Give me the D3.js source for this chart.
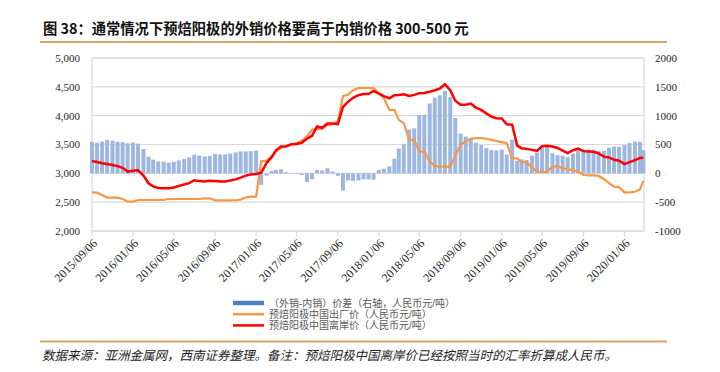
<!doctype html>
<html>
<head>
<meta charset="utf-8">
<script src="https://d3js.org/d3.v7.min.js"></script>
<style>
  body{margin:0;background:#fff;}
  text{font-family:"Noto Sans CJK SC","Noto Sans",sans-serif;}
  .num{font-family:"Liberation Serif","DejaVu Serif",serif;font-size:11px;fill:#262626;}
  .leg{font-family:"Liberation Sans","Noto Sans CJK SC",sans-serif;font-size:10px;fill:#595959;}
</style>
</head>
<body>
<svg width="720" height="372"></svg>
<script>
// semi-monthly sample dates
var dates = [
  "2015-09-06","2015-09-21","2015-10-06","2015-10-21","2015-11-06","2015-11-21","2015-12-06","2015-12-21",
  "2016-01-06","2016-01-21","2016-02-06","2016-02-21","2016-03-06","2016-03-21","2016-04-06","2016-04-21",
  "2016-05-06","2016-05-21","2016-06-06","2016-06-21","2016-07-06","2016-07-21","2016-08-06","2016-08-21",
  "2016-09-06","2016-09-21","2016-10-06","2016-10-21","2016-11-06","2016-11-21","2016-12-06","2016-12-21",
  "2017-01-06","2017-01-21","2017-02-06","2017-02-21","2017-03-06","2017-03-21","2017-04-06","2017-04-21",
  "2017-05-06","2017-05-21","2017-06-06","2017-06-21","2017-07-06","2017-07-21","2017-08-06","2017-08-21",
  "2017-09-06","2017-09-21","2017-10-06","2017-10-21","2017-11-06","2017-11-21","2017-12-06","2017-12-21",
  "2018-01-06","2018-01-21","2018-02-06","2018-02-21","2018-03-06","2018-03-21","2018-04-06","2018-04-21",
  "2018-05-06","2018-05-21","2018-06-06","2018-06-21","2018-07-06","2018-07-21","2018-08-06","2018-08-21",
  "2018-09-06","2018-09-21","2018-10-06","2018-10-21","2018-11-06","2018-11-21","2018-12-06","2018-12-21",
  "2019-01-06","2019-01-21","2019-02-06","2019-02-21","2019-03-06","2019-03-21","2019-04-06","2019-04-21",
  "2019-05-06","2019-05-21","2019-06-06","2019-06-21","2019-07-06","2019-07-21","2019-08-06","2019-08-21",
  "2019-09-06","2019-09-21","2019-10-06","2019-10-21","2019-11-06","2019-11-21","2019-12-06","2019-12-21",
  "2020-01-06","2020-01-21","2020-02-06","2020-02-21","2020-03-02"
];

// 预焙阳极中国离岸价 (left axis)
var fobPrice = [
  3215,3195,3175,3160,3145,3125,3095,3030,
  3045,3053,2960,2827,2775,2745,2740,2740,2755,2780,2805,2830,2880,2865,2860,2870,
  2868,2860,2860,2875,2895,2925,2960,2980,
  2990,3010,3180,3280,3400,3465,3470,3505,3510,3530,3600,3650,3812,3790,3865,3865,
  3855,4150,4240,4310,4355,4374,4374,4430,
  4380,4340,4300,4355,4360,4370,4340,4360,4390,4392,4415,4440,4470,4545,4440,4260,
  4190,4190,4210,4140,4100,4040,3985,3957,
  3950,3850,3845,3480,3436,3424,3407,3390,3470,3480,3465,3440,3395,3350,3400,3430,
  3385,3380,3375,3345,3290,3275,3235,3220,
  3160,3195,3230,3265,3270
];

// 预焙阳极中国出厂价 (left axis)
var exFactory = [
  2671,2665,2624,2580,2578,2578,2555,2509,
  2509,2538,2538,2538,2538,2538,2538,2555,2555,2555,2555,2555,2555,2555,2567,2567,
  2532,2532,2532,2532,2532,2544,2580,2595,
  2595,3210,3220,3290,3378,3440,3470,3500,3523,3560,3640,3760,3765,3770,3841,3850,
  3900,4340,4363,4440,4479,4479,4479,4479,
  4392,4300,4102,4102,3928,3870,3581,3581,3378,3378,3204,3130,3117,3117,3117,3300,
  3500,3552,3600,3610,3610,3600,3580,3560,
  3540,3523,3262,3262,3193,3193,3100,3030,3025,3020,3117,3125,3088,3070,3058,3030,
  2971,2965,2965,2955,2900,2830,2770,2760,
  2671,2671,2680,2720,2868
];

// (外销-内销)价差 (right axis)
var spread = [
  544,530,551,580,567,547,540,521,
  536,515,422,289,237,207,202,185,200,225,250,275,325,310,293,303,
  336,328,328,343,363,381,380,385,
  395,-200,-40,40,60,70,20,5,-13,-30,-150,-100,60,50,90,30,
  -45,-300,-123,-130,-124,-105,-105,-110,
  60,80,120,253,432,500,759,779,1012,1014,1211,1310,1353,1428,1323,960,
  690,638,610,530,490,440,405,397,
  410,327,583,218,243,231,307,360,445,460,348,315,307,280,342,400,
  414,415,410,390,390,445,465,460,
  489,524,550,545,402
];

var xTickLabels = ["2015/09/06","2016/01/06","2016/05/06","2016/09/06","2017/01/06","2017/05/06",
  "2017/09/06","2018/01/06","2018/05/06","2018/09/06","2019/01/06","2019/05/06","2019/09/06","2020/01/06"];
var leftTicks = [2000,2500,3000,3500,4000,4500,5000];
var rightTicks = [-1000,-500,0,500,1000,1500,2000];
var legendNames = ["（外销-内销）价差（右轴，人民币元/吨）","预焙阳极中国出厂价（人民币元/吨）","预焙阳极中国离岸价（人民币元/吨）"];

var parse = d3.utcParse("%Y-%m-%d");
var parseTick = d3.utcParse("%Y/%m/%d");
var rows = dates.map(function(d,i){
  return {date:parse(d), fob:fobPrice[i], ex:exFactory[i], diff:spread[i]};
});

var L = 92, R = 644, T = 58, B = 231;
var svg = d3.select("svg");

var x = d3.scaleUtc().domain([parse("2015-09-06"), parse("2020-03-04")]).range([L,R]);
var yL = d3.scaleLinear().domain([2000,5000]).range([B,T]);
var yR = d3.scaleLinear().domain([-1000,2000]).range([B,T]);

// title
svg.append("text").attr("x",43).attr("y",34)
  .style("font-size","14.3px").style("font-weight","bold").style("fill","#111")
  .text("图 38：通常情况下预焙阳极的外销价格要高于内销价格 300-500 元");
svg.append("line").attr("x1",40).attr("x2",667).attr("y1",42).attr("y2",42)
  .style("stroke","#D6A461").style("stroke-width",2);

// grid + border
svg.append("g").selectAll("line").data(leftTicks).enter().append("line")
  .attr("x1",L).attr("x2",R)
  .attr("y1",function(d){return yL(d);}).attr("y2",function(d){return yL(d);})
  .style("stroke","#D9D9D9").style("stroke-width",1.2);
svg.append("rect").attr("x",L).attr("y",T).attr("width",R-L).attr("height",B-T)
  .style("fill","none").style("stroke","#D9D9D9").style("stroke-width",1.2);

// y axes labels
svg.append("g").selectAll("text").data(leftTicks).enter().append("text")
  .attr("class","num").attr("x",80).attr("y",function(d){return yL(d);})
  .attr("dy","0.35em").attr("text-anchor","end")
  .text(function(d){return d3.format(",")(d);});
svg.append("g").selectAll("text").data(rightTicks).enter().append("text")
  .attr("class","num").attr("x",655).attr("y",function(d){return yR(d);})
  .attr("dy","0.35em").attr("text-anchor","start")
  .text(function(d){return d;});

// x axis ticks + rotated labels
var ticks = xTickLabels.map(function(s){return {s:s, d:parseTick(s)};});
svg.append("g").selectAll("line").data(ticks).enter().append("line")
  .attr("x1",function(d){return x(d.d);}).attr("x2",function(d){return x(d.d);})
  .attr("y1",B).attr("y2",B+5)
  .style("stroke","#D9D9D9").style("stroke-width",1.2);
svg.append("g").selectAll("text").data(ticks).enter().append("text")
  .attr("class","num").style("font-size","12px")
  .attr("transform",function(d){return "translate("+(x(d.d)+3)+","+(B+10)+") rotate(-45)";})
  .attr("text-anchor","end").attr("dy","0.35em")
  .text(function(d){return d.s;});

// spread bars
var bw = 4;
svg.append("g").selectAll("rect").data(rows).enter().append("rect")
  .attr("x",function(d){return x(d.date)-bw/2;})
  .attr("width",bw)
  .attr("y",function(d){return Math.min(yR(d.diff),yR(0));})
  .attr("height",function(d){return Math.abs(yR(d.diff)-yR(0));})
  .style("fill","#9DB7E0");

// lines
var exLine = d3.line().x(function(d){return x(d.date);}).y(function(d){return yL(d.ex);});
var fobLine = d3.line().x(function(d){return x(d.date);}).y(function(d){return yL(d.fob);});
svg.append("path").datum(rows).attr("d",exLine)
  .style("fill","none").style("stroke","#F79646").style("stroke-width",2.2);
svg.append("path").datum(rows).attr("d",fobLine)
  .style("fill","none").style("stroke","#FF0000").style("stroke-width",2.5);

// legend
var legColors = ["#4F81BD","#F79646","#FF0000"];
var leg = svg.append("g").selectAll("g").data(legendNames).enter().append("g")
  .attr("transform",function(d,i){return "translate(233,"+(303+i*11.2)+")";});
leg.append("line").attr("x1",0).attr("x2",31).attr("y1",0).attr("y2",0)
  .style("stroke",function(d,i){return legColors[i];})
  .style("stroke-width",function(d,i){return i==0?4.5:2.5;});
leg.append("text").attr("class","leg").attr("x",36).attr("y",0).attr("dy","0.35em")
  .text(function(d){return d;});

// footer
svg.append("line").attr("x1",40).attr("x2",667).attr("y1",341.5).attr("y2",341.5)
  .style("stroke","#D6A461").style("stroke-width",2);
svg.append("text").attr("x",42).attr("y",360)
  .style("font-size","12.5px").style("font-style","italic").style("fill","#222")
  .text("数据来源：亚洲金属网，西南证券整理。备注：预焙阳极中国离岸价已经按照当时的汇率折算成人民币。");
</script>
</body>
</html>
